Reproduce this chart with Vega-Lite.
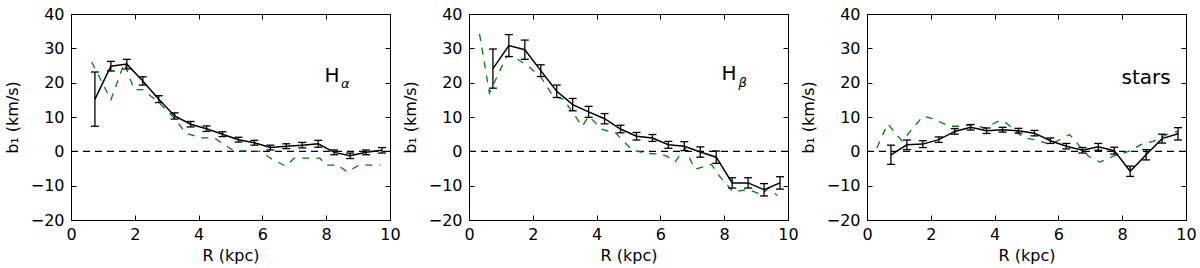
{
  "$schema": "https://vega.github.io/schema/vega-lite/v6.json",
  "padding": {"left": 3, "top": 5, "right": 5, "bottom": 4},
  "background": "white",
  "bounds": "flush",
  "spacing": 79,
  "config": {
    "font": "DejaVu Sans",
    "view": {"stroke": "black", "strokeWidth": 1},
    "axis": {
      "grid": false, "domain": false, "tickColor": "black", "tickSize": -5, "tickWidth": 1,
      "labelColor": "black", "titleColor": "black", "labelFont": "DejaVu Sans", "titleFont": "DejaVu Sans",
      "labelFontSize": 16, "titleFontSize": 16, "titleFontWeight": "normal", "labelFlush": false, "labelOverlap": false
    },
    "axisX": {"labelPadding": 11, "titlePadding": 5},
    "axisY": {"labelPadding": 12, "titlePadding": 10}
  },
  "datasets": {
    "obs": [
      {"panel": "a", "R": 0.75, "b": 15.2, "err": 7.9},
      {"panel": "a", "R": 1.25, "b": 24.8, "err": 1.4},
      {"panel": "a", "R": 1.75, "b": 25.4, "err": 1.4},
      {"panel": "a", "R": 2.25, "b": 20.5, "err": 1.2},
      {"panel": "a", "R": 2.75, "b": 15.2, "err": 1.0},
      {"panel": "a", "R": 3.25, "b": 10.3, "err": 0.9},
      {"panel": "a", "R": 3.75, "b": 7.9, "err": 0.8},
      {"panel": "a", "R": 4.25, "b": 6.6, "err": 0.8},
      {"panel": "a", "R": 4.75, "b": 5.0, "err": 0.7},
      {"panel": "a", "R": 5.25, "b": 3.4, "err": 0.7},
      {"panel": "a", "R": 5.75, "b": 2.5, "err": 0.7},
      {"panel": "a", "R": 6.25, "b": 1.1, "err": 0.7},
      {"panel": "a", "R": 6.75, "b": 1.5, "err": 0.7},
      {"panel": "a", "R": 7.25, "b": 1.8, "err": 0.8},
      {"panel": "a", "R": 7.75, "b": 2.2, "err": 1.0},
      {"panel": "a", "R": 8.25, "b": -0.3, "err": 0.7},
      {"panel": "a", "R": 8.75, "b": -1.3, "err": 0.8},
      {"panel": "a", "R": 9.25, "b": -0.3, "err": 0.7},
      {"panel": "a", "R": 9.75, "b": 0.3, "err": 0.8},
      {"panel": "b", "R": 0.75, "b": 24.1, "err": 5.7},
      {"panel": "b", "R": 1.25, "b": 30.8, "err": 3.2},
      {"panel": "b", "R": 1.75, "b": 29.6, "err": 2.8},
      {"panel": "b", "R": 2.25, "b": 23.5, "err": 1.7},
      {"panel": "b", "R": 2.75, "b": 17.5, "err": 1.8},
      {"panel": "b", "R": 3.25, "b": 13.6, "err": 1.8},
      {"panel": "b", "R": 3.75, "b": 11.5, "err": 1.6},
      {"panel": "b", "R": 4.25, "b": 9.5, "err": 1.5},
      {"panel": "b", "R": 4.75, "b": 6.5, "err": 1.1},
      {"panel": "b", "R": 5.25, "b": 4.4, "err": 1.1},
      {"panel": "b", "R": 5.75, "b": 3.9, "err": 1.0},
      {"panel": "b", "R": 6.25, "b": 1.9, "err": 1.0},
      {"panel": "b", "R": 6.75, "b": 1.5, "err": 1.3},
      {"panel": "b", "R": 7.25, "b": -0.2, "err": 1.5},
      {"panel": "b", "R": 7.75, "b": -1.7, "err": 1.8},
      {"panel": "b", "R": 8.25, "b": -9.2, "err": 1.5},
      {"panel": "b", "R": 8.75, "b": -9.2, "err": 1.5},
      {"panel": "b", "R": 9.25, "b": -11.2, "err": 1.8},
      {"panel": "b", "R": 9.75, "b": -9.2, "err": 1.8},
      {"panel": "s", "R": 0.75, "b": -1.0, "err": 2.8},
      {"panel": "s", "R": 1.25, "b": 1.9, "err": 1.4},
      {"panel": "s", "R": 1.75, "b": 2.1, "err": 1.0},
      {"panel": "s", "R": 2.25, "b": 3.4, "err": 0.8},
      {"panel": "s", "R": 2.75, "b": 5.8, "err": 0.8},
      {"panel": "s", "R": 3.25, "b": 7.0, "err": 0.8},
      {"panel": "s", "R": 3.75, "b": 6.0, "err": 0.8},
      {"panel": "s", "R": 4.25, "b": 6.3, "err": 0.7},
      {"panel": "s", "R": 4.75, "b": 6.0, "err": 0.7},
      {"panel": "s", "R": 5.25, "b": 5.3, "err": 0.8},
      {"panel": "s", "R": 5.75, "b": 3.1, "err": 0.8},
      {"panel": "s", "R": 6.25, "b": 1.5, "err": 0.8},
      {"panel": "s", "R": 6.75, "b": 0.3, "err": 0.8},
      {"panel": "s", "R": 7.25, "b": 1.3, "err": 1.0},
      {"panel": "s", "R": 7.75, "b": 0.2, "err": 1.0},
      {"panel": "s", "R": 8.25, "b": -5.8, "err": 1.5},
      {"panel": "s", "R": 8.75, "b": -1.0, "err": 1.5},
      {"panel": "s", "R": 9.25, "b": 3.7, "err": 1.3},
      {"panel": "s", "R": 9.75, "b": 5.1, "err": 1.8}
    ],
    "model": [
      {"panel": "a", "R": 0.65, "b": 26},
      {"panel": "a", "R": 1.25, "b": 15},
      {"panel": "a", "R": 1.67, "b": 25.7},
      {"panel": "a", "R": 1.98, "b": 18},
      {"panel": "a", "R": 2.24, "b": 18},
      {"panel": "a", "R": 2.71, "b": 14.6},
      {"panel": "a", "R": 3.24, "b": 9.7},
      {"panel": "a", "R": 3.6, "b": 5.3},
      {"panel": "a", "R": 4.07, "b": 3.9},
      {"panel": "a", "R": 4.49, "b": 3.9},
      {"panel": "a", "R": 5.1, "b": 0.2},
      {"panel": "a", "R": 5.95, "b": 0},
      {"panel": "a", "R": 6.25, "b": -2},
      {"panel": "a", "R": 6.73, "b": -4.3},
      {"panel": "a", "R": 7.0, "b": -2},
      {"panel": "a", "R": 7.8, "b": -2},
      {"panel": "a", "R": 8.0, "b": -4},
      {"panel": "a", "R": 8.35, "b": -4},
      {"panel": "a", "R": 8.66, "b": -6},
      {"panel": "a", "R": 9.03, "b": -4},
      {"panel": "a", "R": 9.7, "b": -4},
      {"panel": "b", "R": 0.33, "b": 34.2},
      {"panel": "b", "R": 0.64, "b": 17},
      {"panel": "b", "R": 1.18, "b": 27.7},
      {"panel": "b", "R": 1.4, "b": 27.5},
      {"panel": "b", "R": 1.86, "b": 24.8},
      {"panel": "b", "R": 2.27, "b": 21.4},
      {"panel": "b", "R": 2.64, "b": 16},
      {"panel": "b", "R": 2.95, "b": 15.3},
      {"panel": "b", "R": 3.55, "b": 7.3},
      {"panel": "b", "R": 3.75, "b": 10.2},
      {"panel": "b", "R": 4.2, "b": 6.3},
      {"panel": "b", "R": 4.6, "b": 5.3},
      {"panel": "b", "R": 5.12, "b": 0.3},
      {"panel": "b", "R": 5.6, "b": -0.6},
      {"panel": "b", "R": 6.0, "b": -0.8},
      {"panel": "b", "R": 6.2, "b": -1.4},
      {"panel": "b", "R": 6.46, "b": -3.1},
      {"panel": "b", "R": 6.77, "b": 1.0},
      {"panel": "b", "R": 7.08, "b": -5.2},
      {"panel": "b", "R": 7.6, "b": -3.8},
      {"panel": "b", "R": 7.85, "b": -7.2},
      {"panel": "b", "R": 8.28, "b": -11.8},
      {"panel": "b", "R": 8.75, "b": -11.1},
      {"panel": "b", "R": 9.17, "b": -12.6},
      {"panel": "b", "R": 9.4, "b": -10.7},
      {"panel": "b", "R": 9.67, "b": -12.9},
      {"panel": "s", "R": 0.31, "b": 1},
      {"panel": "s", "R": 0.65, "b": 8},
      {"panel": "s", "R": 1.1, "b": 3},
      {"panel": "s", "R": 1.75, "b": 10.2},
      {"panel": "s", "R": 2.0, "b": 9.7},
      {"panel": "s", "R": 2.6, "b": 7.3},
      {"panel": "s", "R": 3.0, "b": 7.3},
      {"panel": "s", "R": 3.3, "b": 7.8},
      {"panel": "s", "R": 3.7, "b": 6.8},
      {"panel": "s", "R": 4.1, "b": 8.7},
      {"panel": "s", "R": 4.3, "b": 8.8},
      {"panel": "s", "R": 4.9, "b": 4},
      {"panel": "s", "R": 5.2, "b": 3.5},
      {"panel": "s", "R": 5.75, "b": 2},
      {"panel": "s", "R": 6.35, "b": 4.9},
      {"panel": "s", "R": 6.95, "b": -1.5},
      {"panel": "s", "R": 7.3, "b": -3.1},
      {"panel": "s", "R": 7.7, "b": -1.5},
      {"panel": "s", "R": 8.2, "b": 0},
      {"panel": "s", "R": 8.6, "b": 2},
      {"panel": "s", "R": 8.97, "b": 2.9},
      {"panel": "s", "R": 9.4, "b": 4.9},
      {"panel": "s", "R": 9.75, "b": 5.8}
    ],
    "one": [{"label": "label"}]
  },
  "hconcat": [
    {
      "width": 319, "height": 206,
      "resolve": {"axis": {"x": "independent", "y": "independent"}},
      "layer": [
        {"data": {"name": "one"}, "mark": {"type": "rule", "color": "black", "strokeDash": [7, 5], "strokeWidth": 1.3},
         "encoding": {"y": {"datum": 0, "type": "quantitative", "scale": {"domain": [-20, 40], "nice": false}, "axis": null}}},
        {"data": {"name": "model"}, "transform": [{"filter": "datum.panel === 'a'"}],
         "mark": {"type": "line", "color": "#008000", "strokeDash": [7, 7], "strokeWidth": 1.3},
         "encoding": {
           "x": {"field": "R", "type": "quantitative", "scale": {"domain": [0, 10], "nice": false}, "axis": {"orient": "top", "labels": false, "title": null, "values": [0, 2, 4, 6, 8, 10]}},
           "y": {"field": "b", "type": "quantitative", "scale": {"domain": [-20, 40], "nice": false}, "axis": {"orient": "right", "labels": false, "title": null, "values": [-20, -10, 0, 10, 20, 30, 40]}}}},
        {"data": {"name": "obs"}, "transform": [{"filter": "datum.panel === 'a'"}],
         "mark": {"type": "errorbar", "color": "black", "opacity": 1, "rule": {"strokeWidth": 1.3, "color": "black"}, "ticks": {"size": 8, "thickness": 1.3, "color": "black"}},
         "encoding": {
           "x": {"field": "R", "type": "quantitative", "axis": null},
           "y": {"field": "b", "type": "quantitative", "axis": null},
           "yError": {"field": "err"}}},
        {"data": {"name": "obs"}, "transform": [{"filter": "datum.panel === 'a'"}],
         "mark": {"type": "line", "color": "black", "strokeWidth": 1.5},
         "encoding": {
           "x": {"field": "R", "type": "quantitative", "axis": {"orient": "bottom", "title": "R (kpc)", "values": [0, 2, 4, 6, 8, 10]}},
           "y": {"field": "b", "type": "quantitative", "axis": {"orient": "left", "title": "b₁ (km/s)", "values": [-20, -10, 0, 10, 20, 30, 40]}}}},
        {"data": {"name": "one"}, "mark": {"type": "text", "text": "H", "fontSize": 20, "align": "center", "baseline": "middle", "color": "black"},
         "encoding": {"x": {"datum": 8.18, "type": "quantitative", "axis": null}, "y": {"datum": 22, "type": "quantitative", "axis": null}}},
        {"data": {"name": "one"}, "mark": {"type": "text", "text": "α", "fontSize": 13, "fontStyle": "italic", "align": "center", "baseline": "middle", "color": "black"},
         "encoding": {"x": {"datum": 8.6, "type": "quantitative", "axis": null}, "y": {"datum": 19.6, "type": "quantitative", "axis": null}}}
      ]
    },
    {
      "width": 319, "height": 206,
      "resolve": {"axis": {"x": "independent", "y": "independent"}},
      "layer": [
        {"data": {"name": "one"}, "mark": {"type": "rule", "color": "black", "strokeDash": [7, 5], "strokeWidth": 1.3},
         "encoding": {"y": {"datum": 0, "type": "quantitative", "scale": {"domain": [-20, 40], "nice": false}, "axis": null}}},
        {"data": {"name": "model"}, "transform": [{"filter": "datum.panel === 'b'"}],
         "mark": {"type": "line", "color": "#008000", "strokeDash": [7, 7], "strokeWidth": 1.3},
         "encoding": {
           "x": {"field": "R", "type": "quantitative", "scale": {"domain": [0, 10], "nice": false}, "axis": {"orient": "top", "labels": false, "title": null, "values": [0, 2, 4, 6, 8, 10]}},
           "y": {"field": "b", "type": "quantitative", "scale": {"domain": [-20, 40], "nice": false}, "axis": {"orient": "right", "labels": false, "title": null, "values": [-20, -10, 0, 10, 20, 30, 40]}}}},
        {"data": {"name": "obs"}, "transform": [{"filter": "datum.panel === 'b'"}],
         "mark": {"type": "errorbar", "color": "black", "opacity": 1, "rule": {"strokeWidth": 1.3, "color": "black"}, "ticks": {"size": 8, "thickness": 1.3, "color": "black"}},
         "encoding": {
           "x": {"field": "R", "type": "quantitative", "axis": null},
           "y": {"field": "b", "type": "quantitative", "axis": null},
           "yError": {"field": "err"}}},
        {"data": {"name": "obs"}, "transform": [{"filter": "datum.panel === 'b'"}],
         "mark": {"type": "line", "color": "black", "strokeWidth": 1.5},
         "encoding": {
           "x": {"field": "R", "type": "quantitative", "axis": {"orient": "bottom", "title": "R (kpc)", "values": [0, 2, 4, 6, 8, 10]}},
           "y": {"field": "b", "type": "quantitative", "axis": {"orient": "left", "title": "b₁ (km/s)", "values": [-20, -10, 0, 10, 20, 30, 40]}}}},
        {"data": {"name": "one"}, "mark": {"type": "text", "text": "H", "fontSize": 20, "align": "center", "baseline": "middle", "color": "black"},
         "encoding": {"x": {"datum": 8.15, "type": "quantitative", "axis": null}, "y": {"datum": 22.4, "type": "quantitative", "axis": null}}},
        {"data": {"name": "one"}, "mark": {"type": "text", "text": "β", "fontSize": 13, "fontStyle": "italic", "align": "center", "baseline": "middle", "color": "black"},
         "encoding": {"x": {"datum": 8.58, "type": "quantitative", "axis": null}, "y": {"datum": 20, "type": "quantitative", "axis": null}}}
      ]
    },
    {
      "width": 319, "height": 206,
      "resolve": {"axis": {"x": "independent", "y": "independent"}},
      "layer": [
        {"data": {"name": "one"}, "mark": {"type": "rule", "color": "black", "strokeDash": [7, 5], "strokeWidth": 1.3},
         "encoding": {"y": {"datum": 0, "type": "quantitative", "scale": {"domain": [-20, 40], "nice": false}, "axis": null}}},
        {"data": {"name": "model"}, "transform": [{"filter": "datum.panel === 's'"}],
         "mark": {"type": "line", "color": "#008000", "strokeDash": [7, 7], "strokeWidth": 1.3},
         "encoding": {
           "x": {"field": "R", "type": "quantitative", "scale": {"domain": [0, 10], "nice": false}, "axis": {"orient": "top", "labels": false, "title": null, "values": [0, 2, 4, 6, 8, 10]}},
           "y": {"field": "b", "type": "quantitative", "scale": {"domain": [-20, 40], "nice": false}, "axis": {"orient": "right", "labels": false, "title": null, "values": [-20, -10, 0, 10, 20, 30, 40]}}}},
        {"data": {"name": "obs"}, "transform": [{"filter": "datum.panel === 's'"}],
         "mark": {"type": "errorbar", "color": "black", "opacity": 1, "rule": {"strokeWidth": 1.3, "color": "black"}, "ticks": {"size": 8, "thickness": 1.3, "color": "black"}},
         "encoding": {
           "x": {"field": "R", "type": "quantitative", "axis": null},
           "y": {"field": "b", "type": "quantitative", "axis": null},
           "yError": {"field": "err"}}},
        {"data": {"name": "obs"}, "transform": [{"filter": "datum.panel === 's'"}],
         "mark": {"type": "line", "color": "black", "strokeWidth": 1.5},
         "encoding": {
           "x": {"field": "R", "type": "quantitative", "axis": {"orient": "bottom", "title": "R (kpc)", "values": [0, 2, 4, 6, 8, 10]}},
           "y": {"field": "b", "type": "quantitative", "axis": {"orient": "left", "title": "b₁ (km/s)", "values": [-20, -10, 0, 10, 20, 30, 40]}}}},
        {"data": {"name": "one"}, "mark": {"type": "text", "text": "stars", "fontSize": 20, "align": "center", "baseline": "middle", "color": "black"},
         "encoding": {"x": {"datum": 8.75, "type": "quantitative", "axis": null}, "y": {"datum": 21.5, "type": "quantitative", "axis": null}}}
      ]
    }
  ]
}
